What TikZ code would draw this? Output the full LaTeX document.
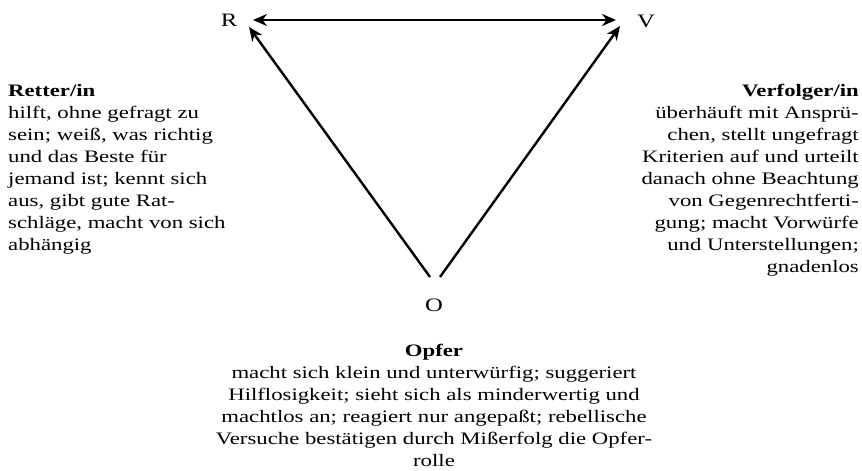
\documentclass[tikz,border=0pt]{standalone}
\usepackage{fontspec}
\setmainfont{Liberation Serif}[FakeStretch=1.3]
\usetikzlibrary{positioning,arrows.meta}

\begin{document}
\begin{tikzpicture}[x=1pt, y=-1pt,
    every node/.style={inner sep=0pt, font=\fontsize{17.5}{22}\selectfont},
    corner/.style={font=\fontsize{19}{22}\selectfont},
    link/.style={line width=2.4pt, {Stealth[length=14pt,width=12pt]}-{Stealth[length=14pt,width=12pt]}},
    pointer/.style={line width=2.4pt, -{Stealth[length=14pt,width=12pt]}}]

        \useasboundingbox (0,0) rectangle (862,471);

        \node[corner] (R) at (229,20) {R};
        \node[corner] (V) at (646,21) {V};
        \node[corner] (O) at (434,305) {O};

        \coordinate (rtop) at (253,20);
        \coordinate (vtop) at (616,20);
        \coordinate (rside) at (249,27);
        \coordinate (vside) at (620,26);
        \coordinate (oleft) at (430,277);
        \coordinate (oright) at (440,277);

        \draw [link] (rtop) -- (vtop);
        \draw [pointer] (oleft) -- (rside);
        \draw [pointer] (oright) -- (vside);

        \node (retter) [anchor=north west, align=left] at (8,84) {\textbf{Retter/in}\\
            hilft, ohne gefragt zu\\
            sein; weiß, was richtig\\
            und das Beste für\\
            jemand ist; kennt sich\\
            aus, gibt gute Rat-\\
            schläge, macht von sich\\
            abhängig};

        \node (verfolger) [anchor=north east, align=right] at (859,84) {\textbf{Verfolger/in}\\
            überhäuft mit Ansprü-\\
            chen, stellt ungefragt\\
            Kriterien auf und urteilt\\
            danach ohne Beachtung\\
            von Gegenrechtferti-\\
            gung; macht Vorwürfe\\
            und Unterstellungen;\\
            gnadenlos};

        \node (opfer) [anchor=north, align=center] at (434,344) {\textbf{Opfer}\\
            macht sich klein und unterwürfig; suggeriert\\
            Hilflosigkeit; sieht sich als minderwertig und\\
            machtlos an; reagiert nur angepaßt; rebellische\\
            Versuche bestätigen durch Mißerfolg die Opfer-\\
            rolle};

    \end{tikzpicture}
\end{document}
